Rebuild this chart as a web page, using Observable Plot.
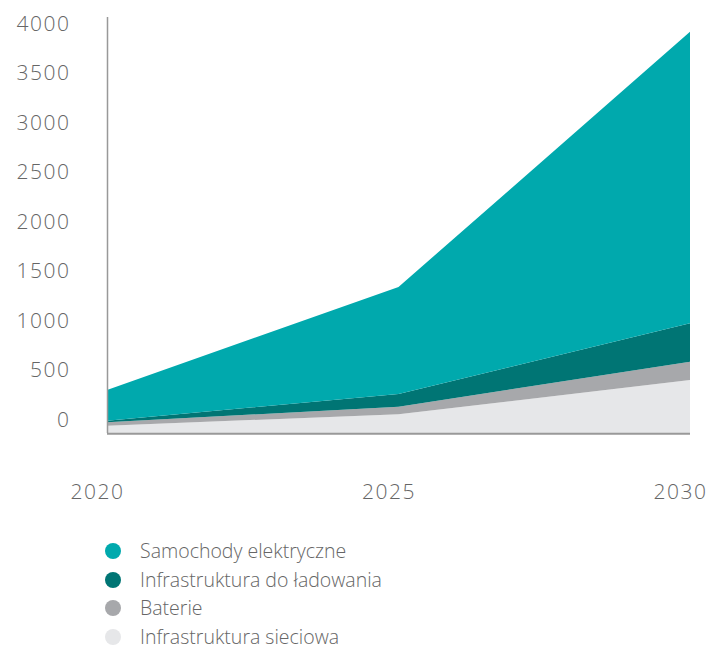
<!DOCTYPE html>
<html>
<head>
<meta charset="utf-8">
<script src="https://cdn.jsdelivr.net/npm/d3@7"></script>
<script src="https://cdn.jsdelivr.net/npm/@observablehq/plot@0.6"></script>
<style>
  body { margin: 0; background: #fff; font-family: "Open Sans", sans-serif; }
  #wrap { position: relative; width: 708px; height: 650px; }
  #legend { position: absolute; left: 0; top: 0; width: 708px; }
  .item { position: absolute; left: 105px; height: 16px; line-height: 16px; display: flex; align-items: center; font-size: 19.5px; font-weight: 300; color: #666; white-space: nowrap; }
  .dot { width: 16px; height: 16px; border-radius: 50%; margin-right: 19px; flex: none; }
</style>
</head>
<body>
<div id="wrap"><div id="chart"></div><div id="legend"></div></div>
<script>
const years = [2020, 2025, 2030];
const seriesNames = ["Infrastruktura sieciowa", "Baterie", "Infrastruktura do ładowania", "Samochody elektryczne"];
const sieciowa = [77, 192, 539];
const baterie = [34, 77, 185];
const ladowania = [16, 128, 388];
const samochody = [311, 1082, 2946];
const colors = ["#e6e7e9", "#a7a8ab", "#007574", "#00a9ad"];
const yTicks = [0, 500, 1000, 1500, 2000, 2500, 3000, 3500, 4000];
const legendOrder = ["Samochody elektryczne", "Infrastruktura do ładowania", "Baterie", "Infrastruktura sieciowa"];

const valuesBySeries = [sieciowa, baterie, ladowania, samochody];
const data = [];
seriesNames.forEach((s, i) => years.forEach((yr, j) => data.push({year: yr, series: s, value: valuesBySeries[i][j]})));

const chart = Plot.plot({
  width: 708,
  height: 525,
  marginLeft: 107,
  marginRight: 18,
  marginTop: 17,
  marginBottom: 92,
  style: {fontFamily: "'Open Sans', sans-serif", fontSize: "21px", fontWeight: 300, letterSpacing: "1.5px", color: "#666", background: "#fff"},
  x: {domain: [2020, 2030]},
  y: {domain: [0, 4000], range: [433.3, 37.6]},
  color: {domain: seriesNames, range: colors},
  marks: [
    Plot.areaY(data, {x: "year", y: "value", fill: "series", z: "series", order: seriesNames}),
    Plot.ruleX([2020], {stroke: "#999", strokeWidth: 1.5}),
    Plot.ruleY([0], {stroke: "#999", strokeWidth: 2}),
    Plot.axisY({ticks: yTicks, tickSize: 0, tickPadding: 37, dy: -14, label: null, tickFormat: d => String(d), fill: "#666"}),
    Plot.axisX({ticks: years, tickSize: 0, tickPadding: 51, dx: -10, label: null, tickFormat: d => String(d), fill: "#666"})
  ]
});
document.getElementById("chart").appendChild(chart);

const legend = document.getElementById("legend");
legendOrder.forEach((name, i) => {
  const item = document.createElement("div");
  item.className = "item";
  item.style.top = (543 + i * 28.5) + "px";
  const dot = document.createElement("span");
  dot.className = "dot";
  dot.style.background = colors[seriesNames.indexOf(name)];
  const label = document.createElement("span");
  label.textContent = name;
  item.appendChild(dot);
  item.appendChild(label);
  legend.appendChild(item);
});
</script>
</body>
</html>
